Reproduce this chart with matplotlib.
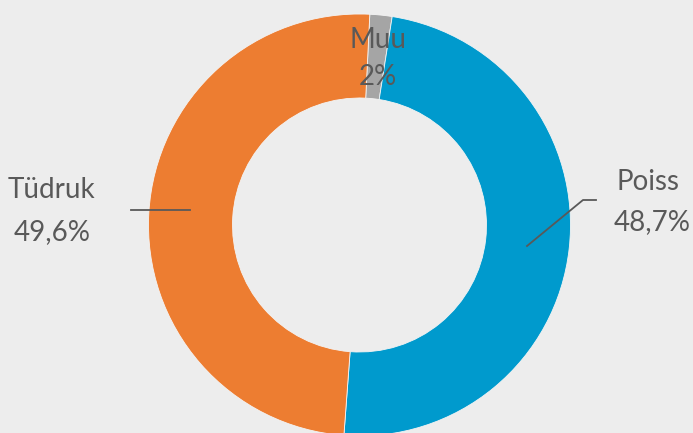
import matplotlib.pyplot as plt

# Andmed
categories = ['Muu', 'Poiss', 'Tüdruk']
values = [1.7, 48.7, 49.6]
labels = ['2%', '48,7%', '49,6%']
colors = ['#A5A5A5', '#009ACD', '#ED7D31']

bg = '#EDEDED'
txt = '#595959'

fig = plt.figure(figsize=(6.93, 4.33), dpi=100, facecolor=bg)
ax = fig.add_axes([0, 0, 1, 1])
ax.set_facecolor(bg)

ax.pie(values, colors=colors, startangle=87.2, counterclock=False,
       center=(359.5, 208), radius=211, frame=True,
       wedgeprops=dict(width=84, edgecolor='#f4f4f4', linewidth=0.6))
ax.set_xlim(0, 693)
ax.set_ylim(0, 433)
ax.set_aspect('equal')
ax.axis('off')

fs = 20
font = 'Lato'
# Muu
ax.text(378, 393, categories[0], ha='center', va='center', fontsize=fs, color=txt, family=font)
ax.text(378, 356, labels[0], ha='center', va='center', fontsize=fs, color=txt, family=font)
# Poiss
ax.text(648, 251, categories[1], ha='center', va='center', fontsize=fs, color=txt, family=font)
ax.text(652, 211, labels[1], ha='center', va='center', fontsize=fs, color=txt, family=font)
ax.plot([596, 583, 527], [233, 233, 187], color=txt, lw=1.3)
# Tüdruk
ax.text(52, 243, categories[2], ha='center', va='center', fontsize=fs, color=txt, family=font)
ax.text(52, 201, labels[2], ha='center', va='center', fontsize=fs, color=txt, family=font)
ax.plot([131, 190], [223, 223], color=txt, lw=1.3)

plt.savefig('out.png', dpi=100, facecolor=bg)
